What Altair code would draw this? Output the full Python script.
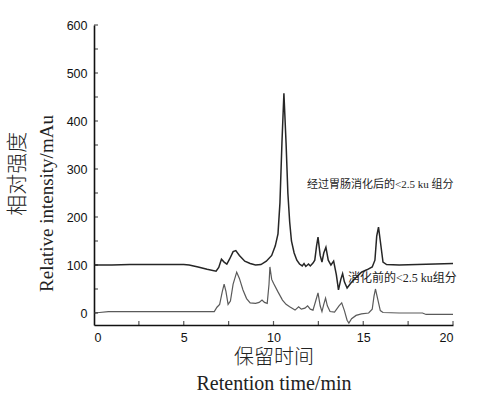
import altair as alt
import pandas as pd

# After digestion (<2.5 ku) trace
t_after = [0, 1, 2, 3, 4, 5.0, 5.3, 5.8, 6.3, 6.8, 6.95, 7.1, 7.25, 7.4, 7.55, 7.75, 7.9, 8.1, 8.4, 8.7,
           9.0, 9.3, 9.6, 9.9, 10.1, 10.25, 10.36, 10.47, 10.58, 10.7, 10.8, 10.9, 11.0, 11.15, 11.3, 11.45,
           11.6, 11.7, 11.8, 11.95, 12.05, 12.2, 12.3, 12.4, 12.48, 12.6, 12.7, 12.8, 12.92, 13.05, 13.2,
           13.35, 13.5, 13.62, 13.75, 13.85, 13.95, 14.1, 14.3, 14.6, 14.9, 15.2, 15.5, 15.65, 15.75, 15.85,
           15.95, 16.1, 16.3, 17, 18, 19, 20]
y_after = [100, 100, 101, 101, 101, 101, 100, 96, 91, 87, 95, 112, 106, 102, 112, 128, 130, 120, 108, 103,
           100, 101, 108, 120, 140, 165, 230, 354, 458, 354, 250, 190, 150, 125, 110, 102,
           98, 103, 97, 102, 98, 104, 110, 140, 158, 120, 106, 125, 137, 110, 100,
           108, 80, 48, 70, 82, 65, 52, 62, 74, 85, 90, 96, 110, 160, 179,
           150, 106, 101, 100, 101, 102, 103]

# Before digestion (<2.5 ku) trace
t_before = [0, 0.3, 0.8, 2, 4, 6.7, 6.85, 7.0, 7.15, 7.25, 7.35, 7.47, 7.6, 7.75, 7.95, 8.1, 8.3, 8.5, 8.7,
            9.0, 9.2, 9.36, 9.5, 9.65, 9.75, 9.8, 9.9, 10.0, 10.25, 10.5, 10.7, 10.9, 11.2, 11.4, 11.55,
            11.75, 11.9, 12.05, 12.2, 12.35, 12.48, 12.6, 12.7, 12.8, 12.9, 13.0, 13.15, 13.4, 13.65, 13.8,
            13.95, 14.1, 14.2, 14.35, 14.6, 14.9, 15.3, 15.5, 15.6, 15.68, 15.8, 15.95, 16.1, 17, 18, 18.3,
            18.5, 20]
y_before = [0, 1, 3, 3, 3, 3, 12, 18, 45, 60, 45, 18, 25, 60, 85, 72, 48, 30, 21,
            20, 22, 27, 22, 20, 60, 96, 70, 62, 44, 27, 18, 13, 6, 13, 8,
            10, 15, 8, 6, 25, 42, 15, 3, 18, 31, 15, 3, 2, 15, 21,
            5, -15, -21, -12, -5, -2, 0, 8, 35, 50, 30, 5, 1, 0, 0, 0,
            -3, -3]

x_ticks = [0, 5, 10, 15, 20]
x_minor = [2.5, 5, 7.5, 10, 12.5, 15, 17.5, 20]
y_ticks = [0, 100, 200, 300, 400, 500, 600]
y_minor = [0, 50, 100, 150, 200, 250, 300, 350, 400, 450, 500, 550, 600]

label_after = "经过胃肠消化后的<2.5 ku 组分"
label_before = "消化前的<2.5 ku组分"
pos_after = [11.87, 267]
pos_before = [14.15, 73]

y_title_cn = "相对强度"
y_title_en = "Relative intensity/mAu"
pos_y_title_cn = [-4.25, 290]

X_MIN, X_MAX = 0, 20
Y_MIN, Y_MAX = -25, 600

df_after = pd.DataFrame({"t": t_after, "v": y_after})
df_before = pd.DataFrame({"t": t_before, "v": y_before})
df_lab1 = pd.DataFrame({"t": [pos_after[0]], "v": [pos_after[1]], "txt": [label_after]})
df_lab2 = pd.DataFrame({"t": [pos_before[0]], "v": [pos_before[1]], "txt": [label_before]})
df_ycn = pd.DataFrame({"t": [pos_y_title_cn[0]], "v": [pos_y_title_cn[1]], "txt": [y_title_cn]})
df_xt = pd.DataFrame({"t": x_minor})
df_yt = pd.DataFrame({"v": y_minor})

xscale = alt.Scale(domain=[X_MIN, X_MAX], nice=False, zero=False)
yscale = alt.Scale(domain=[Y_MIN, Y_MAX], nice=False, zero=False)

title_font = "Liberation Serif, 'Noto Sans CJK SC'"

x_main = alt.Axis(values=x_ticks, format="d", ticks=False, grid=False,
                  domainColor="#111", domainWidth=1.6,
                  labelFont="Liberation Sans", labelFontSize=12.5, labelColor="#111",
                  labelPadding=6,
                  title=["保留时间", "Retention time/min"], titleFont=title_font,
                  titleFontSize=20, titleFontWeight=300, titleColor="#222",
                  titleLineHeight=26, titlePadding=4)
y_main = alt.Axis(values=y_ticks, format="d", ticks=False, grid=False,
                  domainColor="#111", domainWidth=1.6,
                  labelFont="Liberation Sans", labelFontSize=12.5, labelColor="#111",
                  labelPadding=7, titleY=178,
                  title=y_title_en, titleFont="Liberation Serif",
                  titleFontSize=19, titleFontWeight="normal", titleColor="#222",
                  titlePadding=10)

after = alt.Chart(df_after).mark_line(color="#262626", strokeWidth=1.5).encode(
    x=alt.X("t:Q", scale=xscale, axis=x_main),
    y=alt.Y("v:Q", scale=yscale, axis=y_main),
)
before = alt.Chart(df_before).mark_line(color="#5a5a5a", strokeWidth=1.2).encode(
    x=alt.X("t:Q", scale=xscale),
    y=alt.Y("v:Q", scale=yscale),
)
# inward tick marks along the axes
xt = alt.Chart(df_xt).mark_tick(orient="vertical", size=4, thickness=1.2, color="#111", yOffset=-2).encode(
    x=alt.X("t:Q", scale=xscale),
    y=alt.datum(Y_MIN, scale=yscale),
)
yt = alt.Chart(df_yt).mark_tick(orient="horizontal", size=4, thickness=1.2, color="#111", xOffset=2).encode(
    y=alt.Y("v:Q", scale=yscale),
    x=alt.datum(X_MIN, scale=xscale),
)
ycn = alt.Chart(df_ycn).mark_text(angle=270, align="center", baseline="middle", fontSize=21,
                                  font="'Noto Sans CJK SC'", fontWeight=300, color="#222").encode(
    x=alt.X("t:Q", scale=xscale),
    y=alt.Y("v:Q", scale=yscale),
    text="txt:N",
)
text1 = alt.Chart(df_lab1).mark_text(align="left", baseline="middle", fontSize=11,
                                    font="Liberation Serif, 'Noto Sans CJK SC'", color="#222").encode(
    x=alt.X("t:Q", scale=xscale),
    y=alt.Y("v:Q", scale=yscale),
    text="txt:N",
)
text2 = alt.Chart(df_lab2).mark_text(align="left", baseline="middle", fontSize=12,
                                    font="Liberation Serif, 'Noto Sans CJK SC'", color="#222").encode(
    x=alt.X("t:Q", scale=xscale),
    y=alt.Y("v:Q", scale=yscale),
    text="txt:N",
)

chart = alt.layer(after, before, xt, yt, ycn, text1, text2).properties(
    width=359, height=300,
    autosize=alt.AutoSizeParams(type="none"),
    padding={"left": 94, "top": 25, "right": 35, "bottom": 69},
    background="white",
).configure_view(stroke=None)

chart.save("out.html", embed_options={"renderer": "svg", "actions": False})
